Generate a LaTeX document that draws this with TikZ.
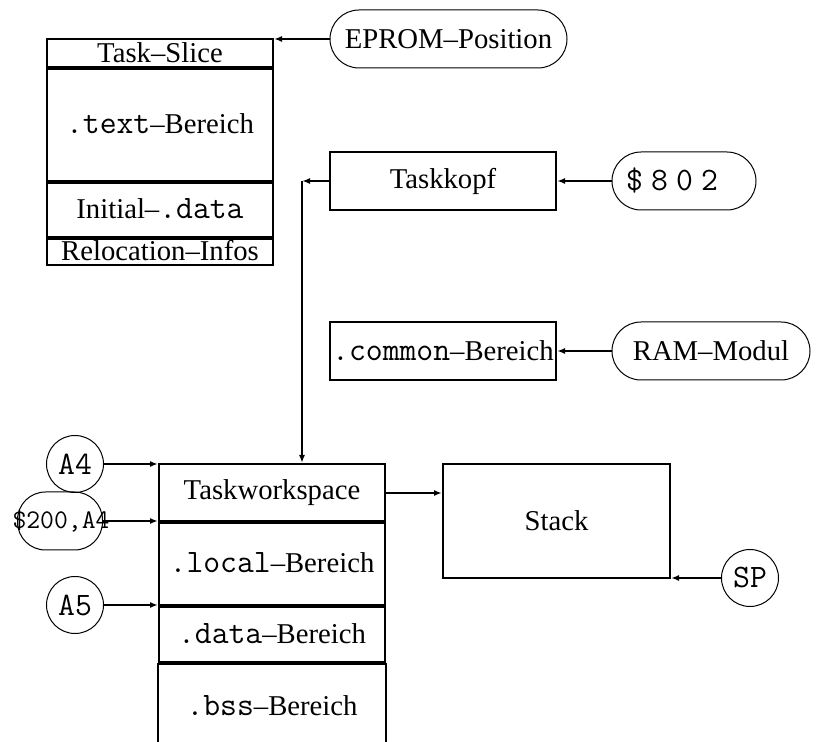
\documentclass[tikz,border=0pt]{standalone}
\usepackage{fontspec}
\setmainfont{Liberation Serif}
\setmonofont{Latin Modern Mono}[Scale=1.14]
\newfontfamily\widett{Latin Modern Mono}[Scale=1.14,LetterSpace=25]
\usetikzlibrary{arrows.meta}
\begin{document}
\begin{tikzpicture}[x=0.5pt,y=-0.5pt,
  font=\fontsize{14.35}{17}\selectfont,
  cell/.style={draw,line width=1pt,inner sep=0pt,minimum width=113pt},
  sep/.style={line width=1.6pt},
  pill/.style={draw,line width=0.5pt,rounded corners=14.5pt,inner sep=0pt,minimum height=29pt},
  circ/.style={draw,line width=0.5pt,circle,inner sep=0pt,minimum size=28.5pt},
  arr/.style={line width=0.8pt,-{Latex[length=4pt,width=3pt]}}]
\useasboundingbox (0,0) rectangle (831,742);
% Task slice
\node[cell,minimum height=14pt] (ts) at (160,53) {Task--Slice};
\node[cell,minimum height=57pt] (txt) at (160,124) {\texttt{.text}--Bereich};
\node[cell,minimum height=28pt] (ini) at (160,209) {Initial--\texttt{.data}};
\node[cell,minimum height=14pt] (rel) at (160,251) {Relocation--Infos};
\draw[sep] (ts.south west) -- (ts.south east);
\draw[sep] (txt.south west) -- (txt.south east);
\draw[sep] (ini.south west) -- (ini.south east);
% EPROM
\node[pill,minimum width=118.5pt] (eprom) at (448.5,39) {EPROM--Position};
\draw[arr] (eprom.west) -- (eprom.west -| ts.east);
% Taskkopf
\node[cell,minimum height=29pt] (kopf) at (443,181) {Taskkopf};
\node[pill,minimum width=72pt] (s802) at (684,181) {\widett \$802\kern 12pt};
\draw[arr] (s802.west) -- (kopf.east);
% common
\node[cell,minimum height=29pt] (common) at (443,351) {\texttt{.common}--Bereich};
\node[pill,minimum width=99pt] (ram) at (711,351) {RAM--Modul};
\draw[arr] (ram.west) -- (common.east);
% Taskworkspace column
\node[cell,minimum height=28.5pt] (tw) at (272,492.5) {Taskworkspace};
\node[cell,minimum height=42pt] (loc) at (272,563) {\texttt{.local}--Bereich};
\node[cell,minimum height=28.5pt] (dat) at (272,633.5) {\texttt{.data}--Bereich};
\node[inner sep=0pt] (bss) at (272,706) {\texttt{.bss}--Bereich};
\draw[sep] (tw.south west) -- (tw.south east);
\draw[sep] (loc.south west) -- (loc.south east);
\draw[sep] (dat.south west) -- (dat.south east);
\draw[line width=1pt] (dat.south west) -- ++(0,80);
\draw[line width=1pt] (dat.south east) -- ++(0,80);
% Taskkopf to workspace
\coordinate (corner) at (302,181);
\draw[arr] (kopf.west) -- (corner);
\draw[arr] (corner) -- (corner |- tw.north);
% address registers
\node[circ] (a4) at (75,464) {\texttt{A4}};
\node[draw,line width=0.5pt,rounded corners=14pt,inner sep=0pt,minimum width=42.5pt,minimum height=29pt] (s200) at (60,521) {};
\node[font=\fontsize{11.8}{14}\selectfont\ttfamily,inner sep=0pt] (s200t) at (61,521) {\$200,A4};
\node[circ] (a5) at (75,605) {\texttt{A5}};
\draw[arr] (a4.east) -- (a4.east -| tw.west);
\draw[arr] (s200.east) -- (s200.east -| tw.west);
\draw[arr] (a5.east) -- (a5.east -| loc.west);
% Stack
\node[cell,minimum width=113.5pt,minimum height=57pt] (stack) at (556.5,521) {Stack};
\draw[arr] (tw.east |- 0,493) -- (stack.west |- 0,493);
\node[circ] (sp) at (750,578) {\texttt{SP}};
\draw[arr] (sp.west) -- (sp.west -| stack.east);
\end{tikzpicture}
\end{document}
